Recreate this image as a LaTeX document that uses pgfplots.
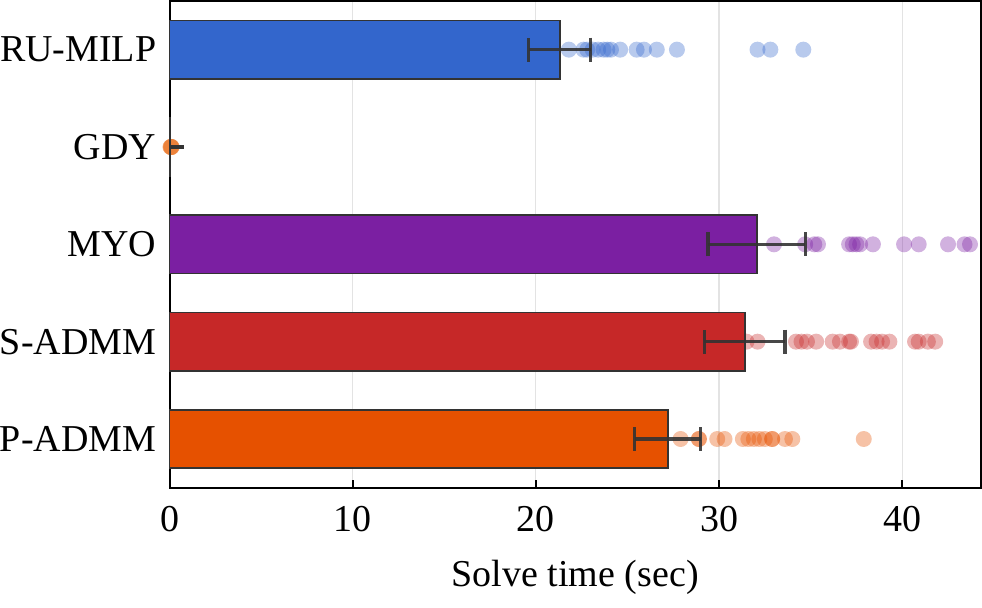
\documentclass[border=0pt]{standalone}
\usepackage{fontspec}
\setmainfont{Liberation Serif}
\usepackage{pgfplots}
\pgfplotsset{compat=1.18}

\definecolor{cRU}{RGB}{51,102,204}
\definecolor{cGDY}{RGB}{236,126,52}
\definecolor{cMYO}{RGB}{123,31,162}
\definecolor{cSA}{RGB}{198,40,40}
\definecolor{cPA}{RGB}{230,81,0}
\definecolor{edge}{RGB}{51,51,51}

\pgfplotsset{
  run/.style={only marks, mark=*, mark size=4pt,
    mark options={draw opacity=0, fill=#1, fill opacity=0.35}},
}

\begin{document}
\fontsize{19}{22.8}\selectfont
\begin{tikzpicture}
\begin{axis}[
  scale only axis,
  width=406pt, height=243.5pt,
  xmin=0, xmax=44.3,
  ymin=-0.5, ymax=4.5,
  xtick={0,10,20,30,40},
  ytick={0,1,2,3,4},
  yticklabels={P-ADMM,S-ADMM,MYO,GDY,RU-MILP},
  ytick style={draw=none},
  xtick pos=bottom,
  tick align=inside,
  major tick length=4pt,
  x tick style={black, line width=1pt},
  xmajorgrids,
  grid style={gray!22, line width=0.6pt},
  axis line style={black, line width=1pt},
  xlabel={Solve time (sec)},
  label style={font=\fontsize{19}{22.8}\selectfont},
  tick label style={font=\fontsize{19}{22.8}\selectfont},
  /pgf/number format/assume math mode=true,
  xticklabel style={yshift=-3pt},
  yticklabel style={inner xsep=0pt, xshift=-6.5pt},
  xlabel style={yshift=-1pt},
  clip=false,
  clip marker paths=true,
]
% individual runs
\addplot[run=cRU]
  coordinates {(21.8,4)(22.6,4)(22.8,4)(23.1,4)(23.4,4)(23.7,4)(23.9,4)(24.1,4)
  (24.6,4)(25.5,4)(25.9,4)(26.6,4)(27.7,4)(32.1,4)(32.8,4)(34.6,4)};
\addplot[run=cGDY]
  coordinates {(0.05,3)(0.06,3)(0.08,3)(0.1,3)(0.1,3)(0.12,3)(0.1,3)(0.08,3)};
\addplot[run=cMYO]
  coordinates {(33.0,2)(34.7,2)(35.2,2)(35.4,2)(37.1,2)(37.3,2)(37.5,2)(37.7,2)
  (38.4,2)(40.1,2)(40.9,2)(42.5,2)(43.4,2)(43.7,2)};
\addplot[run=cSA]
  coordinates {(31.5,1)(32.1,1)(34.2,1)(34.5,1)(34.8,1)(35.3,1)(36.2,1)(36.6,1)(37.1,1)(37.2,1)
  (38.3,1)(38.6,1)(38.9,1)(39.3,1)(40.7,1)(40.9,1)(41.4,1)(41.8,1)};
\addplot[run=cPA]
  coordinates {(27.9,0)(28.9,0)(28.9,0)(29.9,0)(30.3,0)(31.3,0)(31.6,0)(31.9,0)(32.2,0)(32.5,0)
  (32.9,0)(32.9,0)(33.6,0)(34.0,0)(37.9,0)};

% mean solve time per method
\addplot[xbar, bar width=0.6, fill=cRU, draw=edge, line width=0.9pt] coordinates {(21.3,4)};
\addplot[xbar, bar width=0.6, fill=cGDY, draw=edge, line width=0.9pt] coordinates {(0.05,3)};
\addplot[xbar, bar width=0.6, fill=cMYO, draw=edge, line width=0.9pt] coordinates {(32.05,2)};
\addplot[xbar, bar width=0.6, fill=cSA, draw=edge, line width=0.9pt] coordinates {(31.4,1)};
\addplot[xbar, bar width=0.6, fill=cPA, draw=edge, line width=0.9pt] coordinates {(27.2,0)};

% confidence intervals
\addplot[draw=none, mark=none,
  error bars/.cd, x dir=both, x explicit,
  error bar style={edge, line width=1.6pt, opacity=0.9},
  error mark options={edge, line width=1.6pt, mark size=6pt, rotate=90}]
  coordinates {
    (21.3,4) +- (1.7,0)
    (32.05,2) +- (2.65,0)
    (31.4,1) +- (2.2,0)
    (27.2,0) +- (1.8,0)
  };
\addplot[draw=none, mark=none,
  error bars/.cd, x dir=plus, x explicit,
  error bar style={edge, line width=1.6pt},
  error mark=none]
  coordinates {(0.05,3) +- (0.75,0)};
\end{axis}
\end{tikzpicture}
\end{document}
